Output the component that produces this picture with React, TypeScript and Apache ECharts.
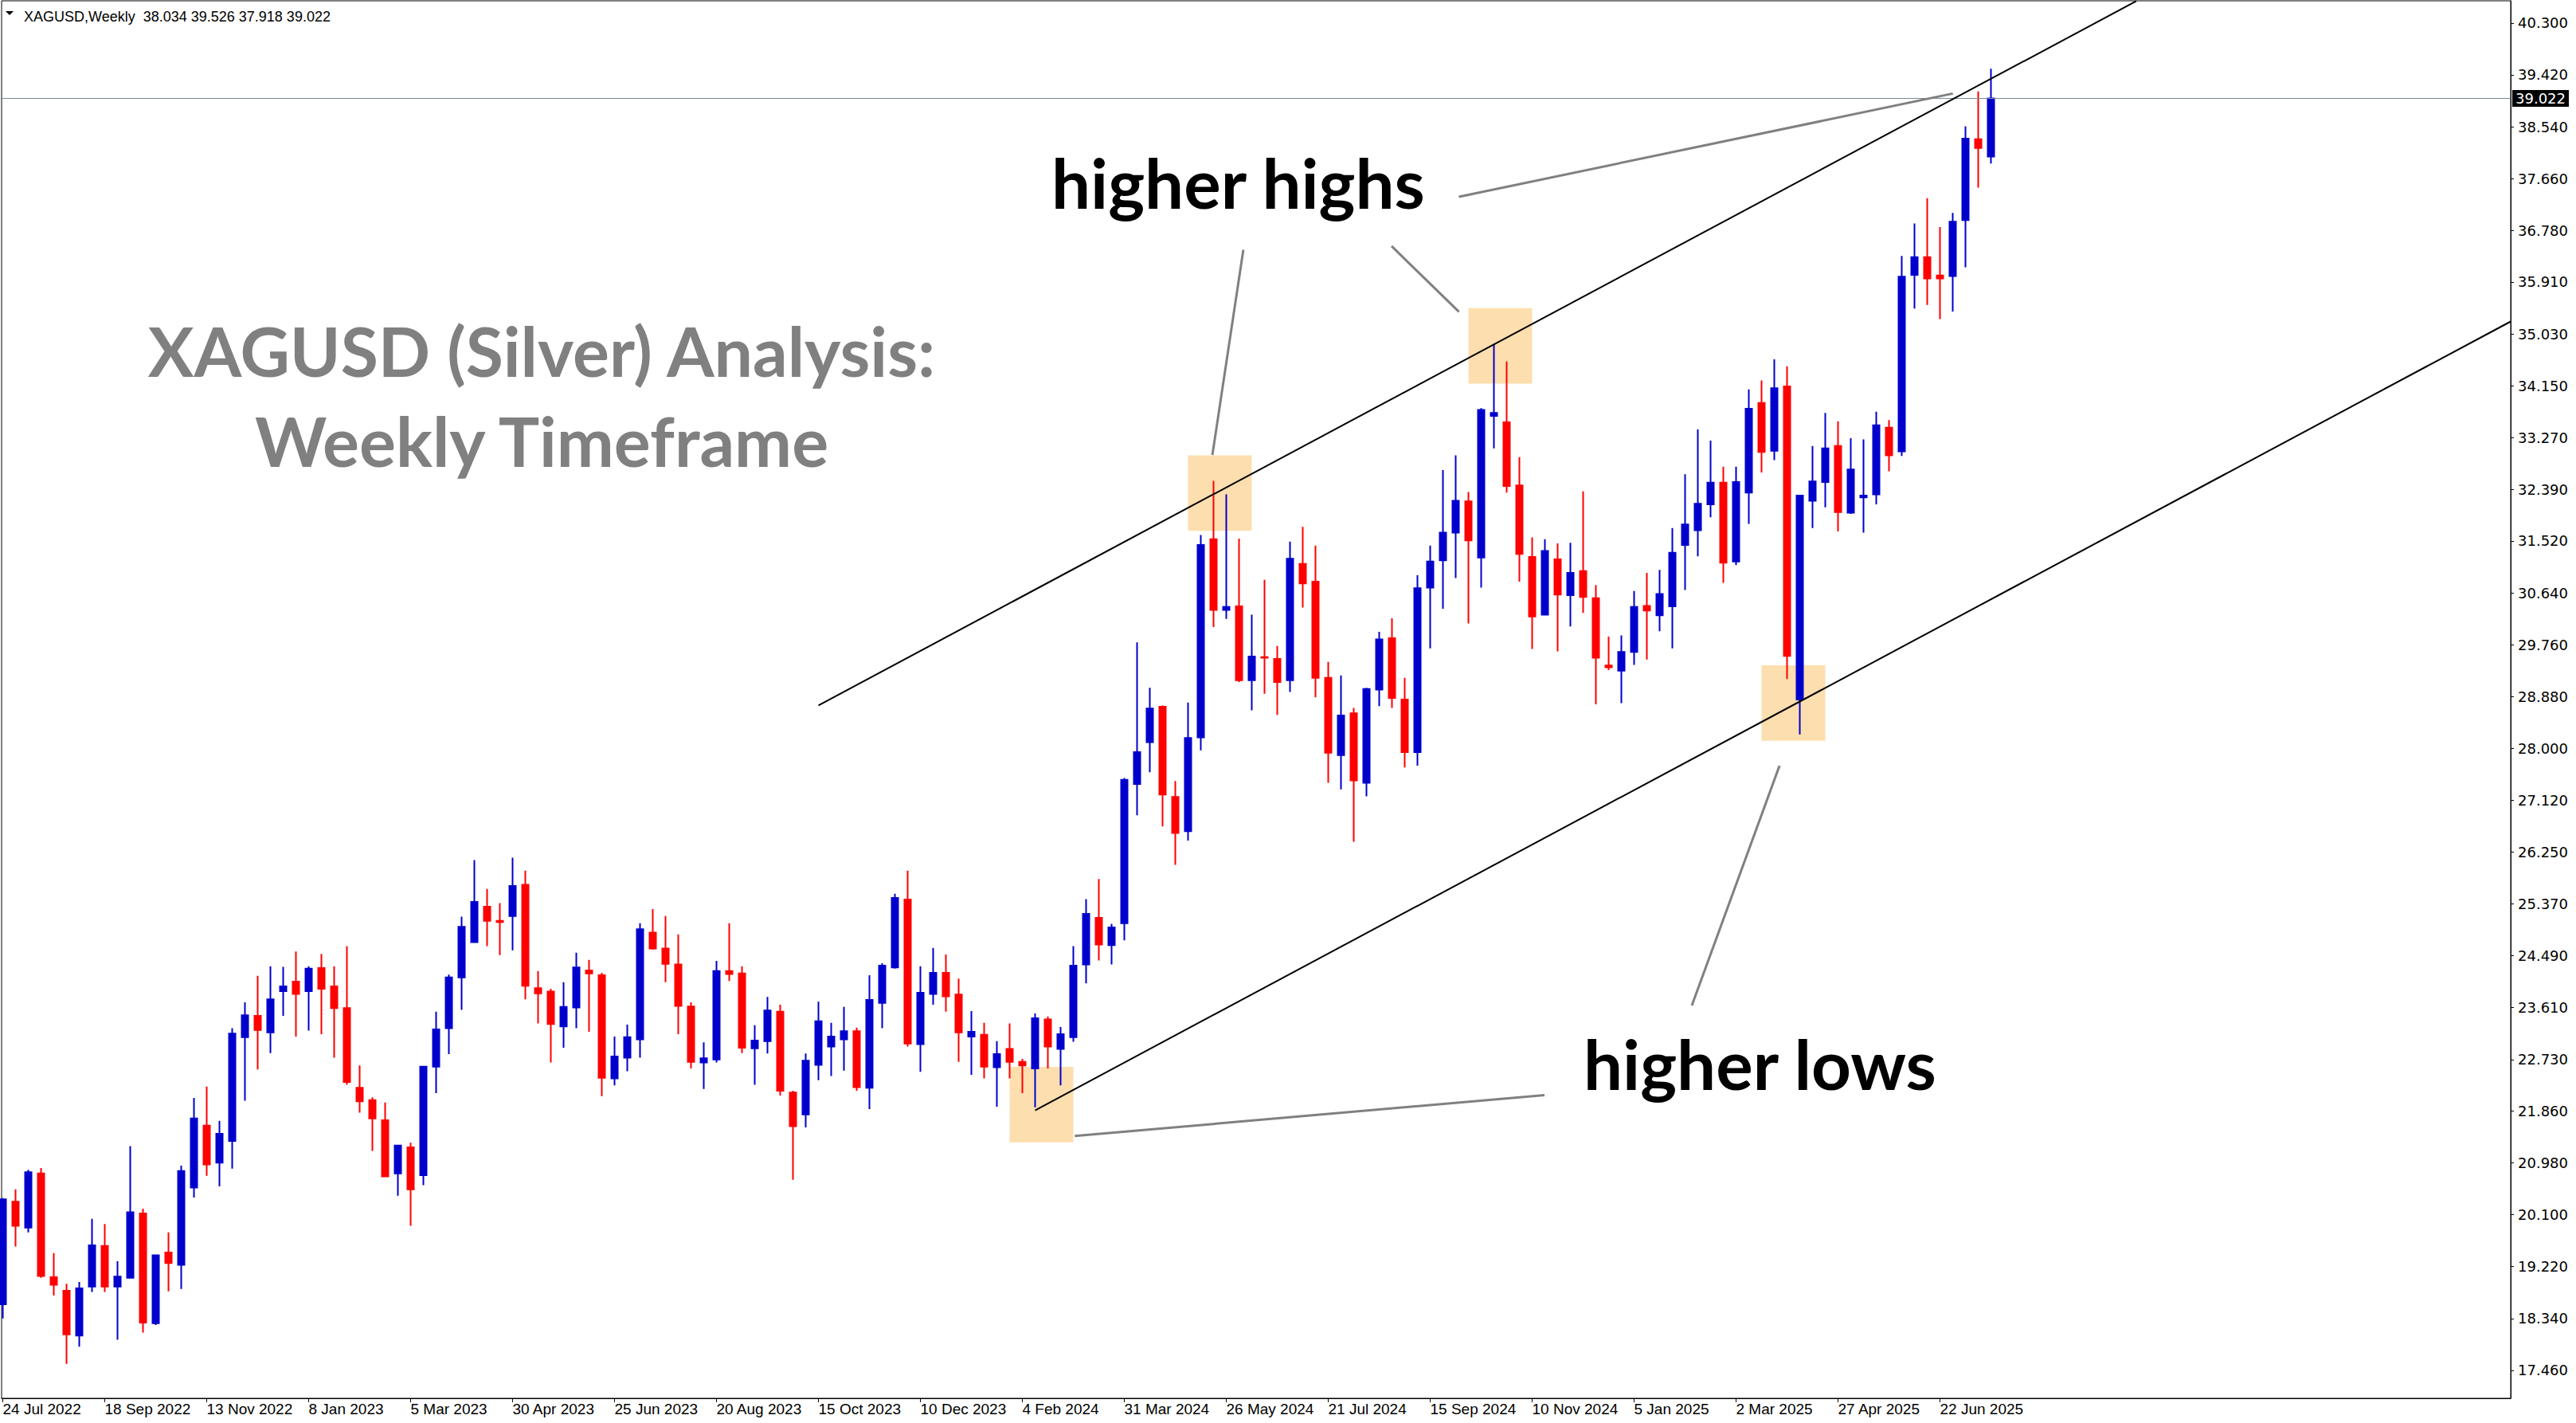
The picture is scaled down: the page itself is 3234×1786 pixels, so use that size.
import React, { useEffect, useRef } from 'react';
import * as echarts from 'echarts';

// Weekly XAGUSD candles, 24 Jul 2022 .. 20 Jul 2025 (index = week number)
const openP = [
  18.58, 20.32, 19.88, 20.80, 19.04, 18.81, 18.05, 18.88, 19.57, 18.88,
  19.03, 20.12, 18.26, 19.46, 19.25, 20.56, 21.61, 20.98, 21.35, 23.11,
  23.47, 23.19, 23.89, 24.05, 23.89, 24.28, 23.97, 23.60, 22.25, 22.04,
  21.70, 20.80, 21.24, 20.77, 22.61, 23.26, 24.12, 24.72, 25.32, 25.08,
  25.16, 25.69, 23.94, 23.88, 23.29, 23.61, 24.24, 24.16, 22.41, 22.76,
  23.07, 24.88, 24.61, 24.34, 23.63, 22.68, 22.73, 24.23, 24.19, 22.92,
  23.04, 23.54, 22.17, 21.80, 22.64, 22.95, 23.07, 23.21, 22.25, 23.69,
  24.29, 25.44, 22.99, 23.84, 24.20, 23.83, 23.12, 23.15, 22.60, 22.91,
  22.69, 22.58, 23.41, 22.91, 23.11, 24.34, 25.13, 24.67, 25.04, 27.40,
  28.11, 28.71, 27.18, 26.60, 28.19, 31.55, 30.35, 30.41, 29.16, 29.55,
  29.52, 29.16, 31.13, 30.83, 29.20, 27.89, 28.60, 27.42, 29.00, 29.87,
  28.83, 27.94, 30.73, 31.19, 31.66, 32.19, 31.24, 33.64, 33.53, 32.46,
  31.25, 30.27, 31.21, 30.60, 31.01, 30.55, 29.41, 29.32, 29.64, 30.42,
  30.26, 30.41, 31.45, 31.70, 32.14, 32.51, 31.17, 32.34, 33.86, 33.05,
  34.14, 28.83, 32.20, 32.52, 33.13, 32.00, 32.26, 32.31, 33.44, 33.04,
  36.03, 36.33, 36.02, 36.01, 36.96, 38.33, 38.034,
];
const highP = [
  20.38, 20.53, 20.86, 20.89, 19.45, 18.93, 18.96, 20.03, 19.94, 19.31,
  21.26, 20.20, 19.41, 19.80, 20.93, 22.08, 22.27, 21.69, 23.26, 23.70,
  24.15, 24.31, 24.30, 24.56, 24.31, 24.52, 24.31, 24.65, 22.63, 22.09,
  22.00, 21.28, 21.32, 22.62, 23.54, 24.17, 25.15, 26.11, 25.62, 25.38,
  26.15, 25.93, 24.23, 23.93, 24.04, 24.54, 24.42, 24.20, 23.12, 23.32,
  25.04, 25.28, 25.16, 24.85, 23.70, 23.02, 24.40, 25.04, 24.31, 23.31,
  23.79, 23.66, 22.20, 22.83, 23.71, 23.35, 23.62, 23.27, 24.16, 24.36,
  25.54, 25.93, 24.31, 24.62, 24.51, 24.10, 23.55, 23.35, 23.04, 23.34,
  22.74, 23.51, 23.46, 23.28, 24.65, 25.45, 25.79, 25.03, 27.50, 29.80,
  29.03, 28.73, 27.45, 28.78, 31.62, 32.54, 32.31, 31.56, 30.27, 30.86,
  29.74, 31.51, 31.76, 31.44, 29.47, 29.24, 28.69, 29.03, 29.98, 30.21,
  29.20, 30.94, 31.44, 32.72, 32.97, 32.35, 33.77, 34.86, 34.56, 32.94,
  31.58, 31.55, 31.48, 31.49, 32.36, 30.77, 29.90, 29.92, 30.67, 30.98,
  31.03, 31.74, 32.65, 33.41, 33.22, 32.78, 32.78, 34.09, 34.24, 34.60,
  34.48, 32.29, 33.13, 33.69, 33.55, 33.26, 33.24, 33.71, 33.57, 36.35,
  36.90, 37.33, 36.84, 37.08, 38.55, 39.14, 39.526,
];
const lowP = [
  18.34, 19.56, 19.80, 19.03, 18.73, 17.57, 17.86, 18.79, 18.79, 17.98,
  19.03, 18.10, 18.23, 18.80, 18.84, 20.39, 20.76, 20.58, 20.88, 22.03,
  22.56, 22.84, 23.47, 23.12, 23.22, 23.16, 22.76, 22.30, 21.83, 21.18,
  20.74, 20.42, 19.91, 20.60, 22.16, 22.82, 23.57, 24.72, 24.65, 24.50,
  24.58, 23.75, 23.34, 22.68, 22.93, 23.26, 23.20, 22.11, 22.29, 22.53,
  22.76, 24.59, 24.04, 23.16, 22.58, 22.23, 22.68, 24.06, 22.84, 22.30,
  22.83, 22.12, 20.69, 21.58, 22.38, 22.45, 22.54, 22.20, 21.89, 23.26,
  24.27, 22.95, 22.52, 23.66, 23.54, 22.69, 22.47, 22.41, 21.93, 22.41,
  22.16, 21.92, 22.58, 22.29, 23.03, 24.02, 24.41, 24.34, 24.75, 26.87,
  27.60, 26.68, 26.03, 26.44, 27.97, 30.06, 30.20, 29.13, 28.65, 28.93,
  28.57, 28.96, 30.39, 28.87, 27.42, 27.31, 26.42, 27.19, 28.72, 28.69,
  27.68, 27.71, 29.70, 30.37, 30.89, 30.12, 30.73, 33.09, 32.34, 30.83,
  29.69, 30.27, 29.65, 30.07, 30.30, 28.75, 29.33, 28.77, 29.42, 29.51,
  29.99, 29.70, 30.69, 31.26, 31.92, 30.81, 31.11, 31.81, 32.68, 32.89,
  29.18, 28.24, 31.74, 32.09, 31.68, 31.98, 31.66, 32.14, 32.70, 32.96,
  35.46, 35.52, 35.28, 35.41, 36.16, 37.51, 37.918,
];
const closeP = [
  20.36, 19.91, 20.82, 19.06, 18.91, 18.07, 18.85, 19.58, 18.88, 19.05,
  20.14, 18.27, 19.41, 19.28, 20.84, 21.73, 20.95, 21.47, 23.17, 23.48,
  23.23, 23.75, 23.97, 23.84, 24.27, 23.93, 23.60, 22.35, 22.02, 21.73,
  20.75, 21.27, 20.53, 22.61, 23.24, 24.12, 24.98, 25.40, 25.08, 25.06,
  25.67, 23.98, 23.85, 23.33, 23.62, 24.29, 24.19, 22.42, 22.78, 23.11,
  24.94, 24.61, 24.35, 23.64, 22.69, 22.75, 24.23, 24.18, 22.93, 23.05,
  23.56, 22.20, 21.60, 22.71, 23.38, 23.12, 23.21, 22.26, 23.74, 24.32,
  25.47, 23.00, 23.86, 24.20, 23.80, 23.19, 23.20, 22.61, 22.82, 22.69,
  22.63, 23.43, 22.95, 23.16, 24.32, 25.20, 24.68, 24.97, 27.47, 27.94,
  28.68, 27.22, 26.57, 28.18, 31.45, 30.35, 30.40, 29.16, 29.56, 29.54,
  29.13, 31.22, 30.80, 29.20, 27.93, 28.56, 27.46, 29.01, 29.85, 28.86,
  27.94, 30.72, 31.17, 31.66, 32.20, 31.53, 33.74, 33.69, 32.45, 31.30,
  30.24, 31.35, 30.61, 30.98, 30.57, 29.54, 29.38, 29.64, 30.40, 30.34,
  30.62, 31.32, 31.80, 32.15, 32.51, 31.15, 32.52, 33.76, 33.03, 34.11,
  29.57, 32.29, 32.53, 33.09, 32.01, 32.73, 32.29, 33.48, 32.97, 36.00,
  36.33, 35.97, 35.97, 36.93, 38.34, 38.18, 39.022,
];

const xTickIndex = [0, 8, 16, 24, 32, 40, 48, 56, 64, 72, 80, 88, 96, 104, 112, 120, 128, 136, 144, 152];
const xTickLabels = [
  '24 Jul 2022', '18 Sep 2022', '13 Nov 2022', '8 Jan 2023', '5 Mar 2023',
  '30 Apr 2023', '25 Jun 2023', '20 Aug 2023', '15 Oct 2023', '10 Dec 2023',
  '4 Feb 2024', '31 Mar 2024', '26 May 2024', '21 Jul 2024', '15 Sep 2024',
  '10 Nov 2024', '5 Jan 2025', '2 Mar 2025', '27 Apr 2025', '22 Jun 2025',
];
const yTickValues = [
  17.46, 18.34, 19.22, 20.10, 20.98, 21.86, 22.73, 23.61, 24.49, 25.37,
  26.25, 27.12, 28.00, 28.88, 29.76, 30.64, 31.52, 32.39, 33.27, 34.15,
  35.03, 35.91, 36.78, 37.66, 38.54, 39.42, 40.30,
];

// trend channel (week index, price)
const channelUpper = [[64, 28.733], [167.4, 40.67]];
const channelLower = [[81, 21.869], [196.78, 35.24]];
// highlighted swing zones: [fromWeek, lowPrice, toWeek, highPrice]
const zones = [
  [79, 21.326, 84, 22.605],
  [93, 31.692, 98, 32.971],
  [115, 34.187, 120, 35.465],
  [138, 28.133, 143, 29.412],
];
// pointer lines from the labels to the zones
const pointers = [
  [97.34, 36.456, 94.91, 32.978],
  [108.97, 36.517, 114.26, 35.403],
  [114.25, 37.354, 153.01, 39.104],
  [132.53, 23.645, 139.41, 27.71],
  [120.97, 22.125, 84.11, 21.434],
];

export default function App() {
  const ref = useRef<HTMLDivElement>(null);
  useEffect(() => {
    document.body.style.margin = '0';
    document.body.style.overflow = 'hidden';
    const chart = echarts.init(ref.current!, null, { renderer: 'svg' });
    const n = openP.length;
    const candles = openP.map((o, i) => [i, o, closeP[i], lowP[i], highP[i]]);
    const lastO = openP[n - 1], lastH = highP[n - 1], lastL = lowP[n - 1], lastC = closeP[n - 1];

    const option: any = {
      animation: false,
      backgroundColor: '#ffffff',
      grid: {
        left: 2, top: 1, width: 3150, height: 1754,
        show: true, borderColor: '#000', borderWidth: 1, backgroundColor: '#fff',
      },
      xAxis: {
        type: 'value',
        min: -0.09375,
        max: 196.78,
        splitLine: { show: false },
        axisLine: { show: true, onZero: false, lineStyle: { color: '#000', width: 1 } },
        axisTick: { show: true, length: 5, customValues: xTickIndex, lineStyle: { color: '#000' } },
        axisLabel: {
          customValues: xTickIndex,
          formatter: (v: number) => xTickLabels[Math.round(v / 8)] || '',
          align: 'left',
          margin: 4,
          color: '#000',
          fontFamily: "'Liberation Sans Narrow', 'Liberation Sans', sans-serif",
          fontSize: 19,
        },
      },
      yAxis: {
        type: 'value',
        position: 'right',
        min: 16.987,
        max: 40.676,
        scale: true,
        splitLine: { show: false },
        axisLine: { show: true, onZero: false, lineStyle: { color: '#000', width: 1 } },
        axisTick: { show: true, length: 4, customValues: yTickValues, lineStyle: { color: '#000' } },
        axisLabel: {
          customValues: yTickValues,
          formatter: (v: number) => v.toFixed(3),
          margin: 9,
          color: '#000',
          fontFamily: "'DejaVu Sans', sans-serif",
          fontSize: 18,
        },
      },
      series: [
        {
          type: 'line',
          data: [],
          silent: true,
          markArea: {
            silent: true,
            itemStyle: { color: '#FDDEAE' },
            data: zones.map((z) => [{ coord: [z[0], z[3]] }, { coord: [z[2], z[1]] }]),
          },
        },
        {
          type: 'candlestick',
          z: 2,
          barWidth: 9,
          encode: { x: 0, y: [1, 2, 3, 4] },
          data: candles,
          itemStyle: {
            color: '#0000CD', color0: '#FF0000',
            borderColor: '#0000CD', borderColor0: '#FF0000',
            borderWidth: 2,
          },
          markLine: {
            silent: true,
            symbol: ['none', 'none'],
            lineStyle: { color: '#7A8A99', width: 1, type: 'solid' },
            label: {
              show: true,
              position: 'end',
              distance: 2,
              formatter: () => lastC.toFixed(3),
              backgroundColor: '#000',
              color: '#fff',
              fontFamily: "'DejaVu Sans', sans-serif",
              fontSize: 18,
              padding: [2, 4, 1, 4],
            },
            data: [{ yAxis: lastC }],
          },
        },
        {
          type: 'line',
          data: [],
          silent: true,
          markLine: {
            silent: true,
            symbol: ['none', 'none'],
            lineStyle: { color: '#000', width: 2, type: 'solid' },
            label: { show: false },
            data: [channelUpper, channelLower].map((l) => [{ coord: l[0] }, { coord: l[1] }]),
          },
        },
        {
          type: 'line',
          data: [],
          silent: true,
          markLine: {
            silent: true,
            symbol: ['none', 'none'],
            lineStyle: { color: '#808080', width: 3, type: 'solid' },
            label: { show: false },
            data: pointers.map((p) => [{ coord: [p[0], p[1]] }, { coord: [p[2], p[3]] }]),
          },
        },
      ],
      graphic: [
        {
          type: 'polygon',
          shape: { points: [[7, 14], [17, 14], [12, 19]] },
          style: { fill: '#000' },
        },
        {
          type: 'text',
          style: {
            text: `XAGUSD,Weekly  ${lastO.toFixed(3)} ${lastH.toFixed(3)} ${lastL.toFixed(3)} ${lastC.toFixed(3)}`,
            x: 30, y: 21,
            fill: '#000',
            fontFamily: "'Liberation Sans', sans-serif",
            fontSize: 18,
            align: 'left', verticalAlign: 'middle',
            textAlign: 'left', textVerticalAlign: 'middle',
          },
        },
        {
          type: 'text',
          style: {
            text: 'XAGUSD (Silver) Analysis:',
            x: 680, y: 439,
            fill: '#808080',
            fontFamily: "Lato, 'Open Sans', sans-serif",
            fontWeight: 'bold',
            fontSize: 86,
            align: 'center', verticalAlign: 'middle',
            textAlign: 'center', textVerticalAlign: 'middle',
          },
        },
        {
          type: 'text',
          style: {
            text: 'Weekly Timeframe',
            x: 680, y: 552,
            fill: '#808080',
            fontFamily: "Lato, 'Open Sans', sans-serif",
            fontWeight: 'bold',
            fontSize: 86,
            align: 'center', verticalAlign: 'middle',
            textAlign: 'center', textVerticalAlign: 'middle',
          },
        },
        {
          type: 'text',
          style: {
            text: 'higher highs',
            x: 1320, y: 228,
            fill: '#000',
            fontFamily: "Lato, 'Open Sans', sans-serif",
            fontWeight: 'bold',
            fontSize: 87,
            align: 'left', verticalAlign: 'middle',
            textAlign: 'left', textVerticalAlign: 'middle',
          },
        },
        {
          type: 'text',
          style: {
            text: 'higher lows',
            x: 1988, y: 1334,
            fill: '#000',
            fontFamily: "Lato, 'Open Sans', sans-serif",
            fontWeight: 'bold',
            fontSize: 87,
            align: 'left', verticalAlign: 'middle',
            textAlign: 'left', textVerticalAlign: 'middle',
          },
        },
      ],
    };
    chart.setOption(option);
    return () => chart.dispose();
  }, []);
  return (
    <div
      ref={ref}
      style={{ position: 'absolute', left: 0, top: 0, width: 3234, height: 1786, background: '#fff' }}
    />
  );
}
